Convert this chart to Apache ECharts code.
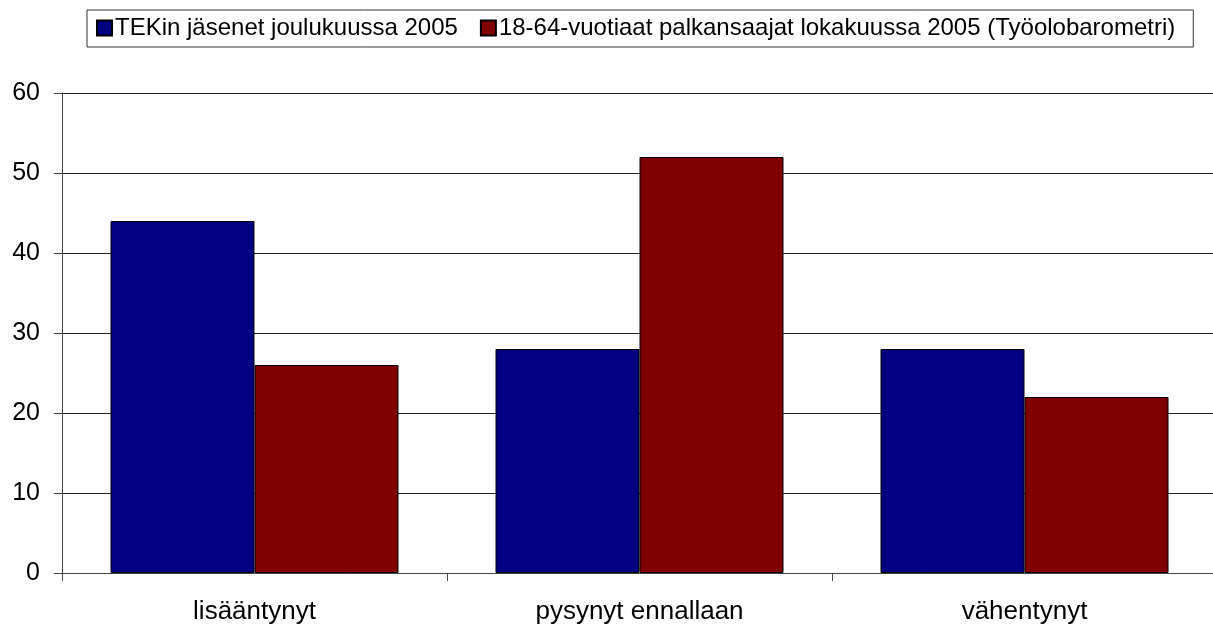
<!DOCTYPE html>
<html><head><meta charset="utf-8">
<script src="https://cdn.jsdelivr.net/npm/echarts@6/dist/echarts.min.js"></script>
<style>html,body{margin:0;padding:0;background:#fff}#c{width:1213px;height:624px}</style>
</head><body><div id="c"></div>
<script>
const categories = ['lisääntynyt', 'pysynyt ennallaan', 'vähentynyt'];
const seriesNames = ['TEKin jäsenet joulukuussa 2005', '18-64-vuotiaat palkansaajat lokakuussa 2005 (Työolobarometri)'];
const tekValues = [44, 28, 28];
const workerValues = [26, 52, 22];
const yTicks = [0, 10, 20, 30, 40, 50, 60];

const font = '"Liberation Sans", Arial, sans-serif';
const chart = echarts.init(document.getElementById('c'), null, {renderer: 'canvas'});
chart.setOption({
  animation: false,
  backgroundColor: '#fff',
  textStyle: {fontFamily: font, color: '#000'},
  legend: {
    left: 87, top: 10,
    padding: [6, 18, 7, 9],
    borderColor: '#333', borderWidth: 1,
    itemWidth: 15, itemHeight: 15, itemGap: 22,
    icon: 'rect',
    textStyle: {fontFamily: font, fontSize: 24, color: '#000', padding: [0, 0, 0, -2]},
    data: seriesNames
  },
  grid: {left: 62, width: 1155, top: 93, bottom: 51, containLabel: false, outerBoundsMode: 'none'},
  xAxis: {
    type: 'category', data: categories,
    axisLine: {lineStyle: {color: '#444', width: 1}},
    axisTick: {show: true, length: 8, lineStyle: {color: '#444'}},
    axisLabel: {fontFamily: font, fontSize: 26, color: '#000', margin: 26}
  },
  yAxis: {
    type: 'value', min: yTicks[0], max: yTicks[yTicks.length - 1], interval: 10,
    axisLine: {show: true, lineStyle: {color: '#444', width: 1}},
    axisTick: {show: true, length: 8, lineStyle: {color: '#444'}},
    axisLabel: {fontFamily: font, fontSize: 25, color: '#000', margin: 22},
    splitLine: {show: true, lineStyle: {color: '#222', width: 1}}
  },
  series: [
    {name: seriesNames[0], type: 'bar', data: tekValues, barWidth: 144, barGap: '0%',
     itemStyle: {color: '#000080', borderColor: '#000', borderWidth: 1}},
    {name: seriesNames[1], type: 'bar', data: workerValues, barWidth: 144, barGap: '0%',
     itemStyle: {color: '#800000', borderColor: '#000', borderWidth: 1}}
  ]
});
</script></body></html>
